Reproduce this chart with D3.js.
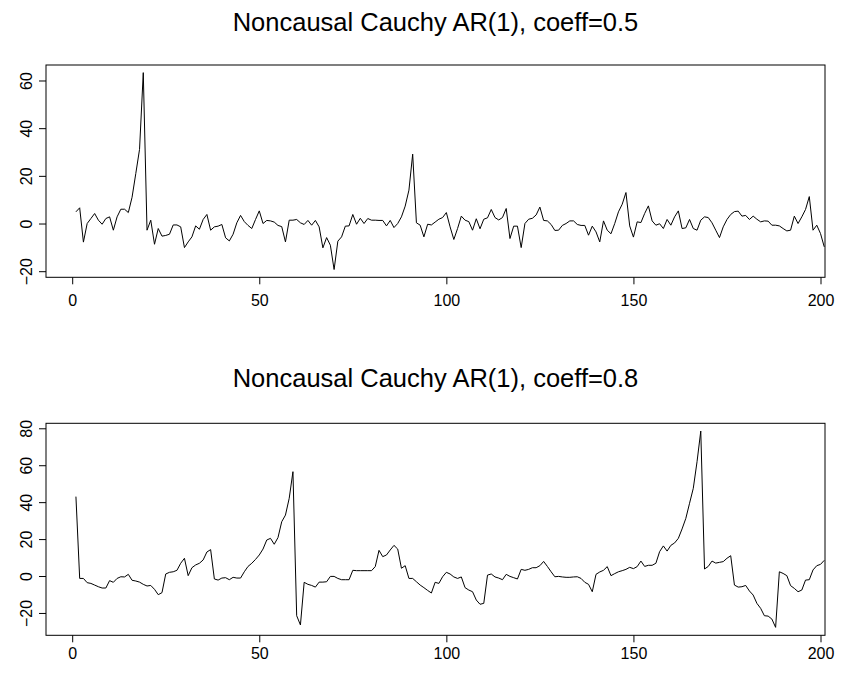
<!DOCTYPE html>
<html>
<head>
<meta charset="utf-8">
<script src="https://cdn.jsdelivr.net/npm/d3@7"></script>
<style>
  html, body { margin: 0; padding: 0; background: #fff; }
  svg { display: block; }
  text { font-family: "Liberation Sans", Arial, Helvetica, sans-serif; fill: #000; }
</style>
</head>
<body>
<svg id="chart" width="847" height="675"></svg>
<script>
// Simulated noncausal Cauchy AR(1) paths, t = 1..201
const seriesA = [
  4.9, 6.6, -7.8, 0, 2.1, 4.2, 1.4, -0.3, 2.1, 2.8,
  -2.8, 2.8, 6.0, 6.0, 4.6, 11, 21, 31.1, 63.3, -2.8,
  1.4, -8.7, -2.1, -5.3, -5.0, -4.5, -0.6, -0.6, -1.4, -10.1,
  -7.7, -5.6, -1.0, -2.4, 1.7, 3.8, -2.8, -1.4, -1.1, -0.4,
  -6.0, -7.3, -4.5, 0.3, 3.4, 0.8, -0.8, -2.1, 1.7, 5.3,
  0, 1.3, 1.1, 0.6, -0.8, -1.3, -7.7, 1.4, 1.4, 1.7,
  0.3, -0.4, 1.3, -0.7, 1.3, -1.4, -10.2, -5.9, -9.1, -19.3,
  -7.4, -5.6, -1.1, -1.0, 3.8, -0.3, 2.2, 0, 2.1, 1.4,
  1.4, 1.3, 1.3, -1.0, 1.3, -1.7, 0, 2.8, 7.3, 14.0,
  29.1, 0.3, -0.7, -5.6, -0.3, -0.6, 0.6, 1.8, 2.5, 4.6,
  -1.4, -6.7, -2.1, 3.1, 1.4, 0.8, -2.8, 2.0, -2.2, 1.8,
  2.4, 5.9, 2.5, 1.5, 2.5, 6.3, -6.3, -1.1, -1.1, -10.1,
  0, 1.8, 2.2, 3.6, 6.9, 1.3, 1.1, -0.4, -2.9, -2.8,
  -0.8, 0, 1.1, 1.1, -0.4, -0.8, -0.8, -4.9, -1.1, -3.5,
  -7.7, 1.1, -2.8, -4.3, 0, 4.9, 8.1, 13.0, -1.0, -5.7,
  0.7, 0.4, 4.2, 7.4, 1.1, -0.7, -0.1, -2.1, 1.7, -0.7,
  2.8, 5.3, -2.1, -1.8, 1.7, -2.1, -2.8, 1.4, 2.8, 2.5,
  0.3, -2.8, -5.9, -1.4, 1.7, 3.8, 5.0, 5.2, 3.1, 3.4,
  1.7, 3.1, 1.8, 0.7, 1.1, 1.0, -0.7, -0.7, -1.0, -2.1,
  -3.1, -2.8, 3.1, 0, 2.8, 5.9, 11.3, -2.8, -0.7, -4.2,
  -9.8
];

const seriesB = [
  43.0, -1.3, -1.3, -3.6, -4.0, -4.9, -5.8, -6.5, -6.5, -2.5,
  -3.4, -1.3, -0.4, -0.5, 0.9, -2.3, -2.7, -3.3, -4.5, -5.4,
  -5.1, -7.2, -10.1, -9.0, 1.1, 2.0, 2.3, 3.1, 6.9, 9.6,
  0.2, 4.5, 6.0, 6.9, 8.7, 13.0, 14.3, -1.6, -2.2, -1.1,
  -0.9, -2.0, -0.7, -1.1, -1.1, 2.3, 5.2, 6.9, 9.0, 11.4,
  14.6, 19.5, 20.4, 17.2, 20.8, 29.4, 33.0, 42.1, 56.5, -21.5,
  -26.5, -3.4, -4.5, -5.1, -6.0, -3.3, -3.3, -3.1, -0.2, -0.2,
  -1.3, -2.0, -2.0, -2.0, 3.1, 2.9, 2.9, 2.9, 2.9, 2.9,
  5.1, 13.9, 10.5, 11.4, 14.1, 16.6, 14.6, 4.2, 5.6, -1.3,
  -1.3, -3.1, -4.9, -6.3, -7.8, -9.2, -3.4, -4.0, -0.4, 2.0,
  1.1, -0.5, -1.3, -0.5, -6.3, -7.6, -8.5, -13.0, -15.3, -14.8,
  0.5, 1.1, -0.5, -1.1, -2.0, 0.9, -0.2, -0.9, -1.6, 3.6,
  3.1, 3.6, 4.5, 4.5, 5.6, 7.9, 5.2, 2.3, -0.4, -0.2,
  -0.5, -0.7, -0.7, -0.5, -0.4, -1.3, -3.4, -4.5, -8.5, 0.9,
  2.2, 3.1, 5.1, 0.2, 1.3, 2.3, 2.9, 3.6, 4.7, 4.0,
  5.1, 8.1, 5.2, 5.8, 5.8, 6.9, 13.2, 16.3, 13.5, 16.6,
  17.9, 20.4, 25.5, 31.2, 39.4, 47.5, 61.9, 78.5, 3.8, 5.2,
  8.1, 7.0, 7.4, 7.8, 9.6, 11.0, -4.9, -6.0, -5.8, -5.1,
  -8.1, -10.3, -14.8, -17.5, -21.5, -21.7, -23.3, -27.8, 2.3, 1.4,
  0.2, -5.2, -6.7, -8.5, -7.6, -2.2, -2.0, 3.3, 5.6, 6.3,
  8.5
];

const xTicks = [0, 50, 100, 150, 200];
const yTicksA = [-20, 0, 20, 40, 60];
const yTicksB = [-20, 0, 20, 40, 60, 80];
const titles = ["Noncausal Cauchy AR(1), coeff=0.5", "Noncausal Cauchy AR(1), coeff=0.8"];

const svg = d3.select("#chart");

// Shared horizontal scale; the frame runs from t = -7 to t = 201.2
const x = d3.scaleLinear().domain([-7, 201.2]).range([46, 825]);

const panels = [
  { values: seriesA, ticks: yTicksA, title: titles[0], top: 65, bottom: 277.3, ydom: [-22.56, 66.5], titleY: 31, labelPad: 10 },
  { values: seriesB, ticks: yTicksB, title: titles[1], top: 423.3, bottom: 635.3, ydom: [-32.1, 82.7], titleY: 387, labelPad: 5 }
];

const minus = s => String(s).replace("-", "\u2212");

panels.forEach(p => {
  const y = d3.scaleLinear().domain(p.ydom).range([p.bottom, p.top]);
  const g = svg.append("g");

  // series line
  const line = d3.line()
    .x((d, i) => x(i + 1))
    .y(d => y(d));
  g.append("path")
    .datum(p.values)
    .attr("fill", "none")
    .attr("stroke", "#000")
    .attr("stroke-width", 1)
    .attr("stroke-linejoin", "round")
    .attr("d", line);

  // frame
  g.append("rect")
    .attr("x", x(-7)).attr("y", p.top)
    .attr("width", x(201.2) - x(-7)).attr("height", p.bottom - p.top)
    .attr("fill", "none").attr("stroke", "#000").attr("stroke-width", 1);

  // bottom axis
  const xAxis = d3.axisBottom(x).tickValues(xTicks).tickSize(7).tickPadding(p.labelPad).tickFormat(d3.format("d"));
  const gx = g.append("g").attr("transform", `translate(0,${p.bottom})`).call(xAxis);
  gx.select(".domain").remove();
  gx.selectAll("text").style("font-size", "16px").style("font-family", "'Liberation Sans', Arial, sans-serif");

  // left axis with rotated labels
  const yAxis = d3.axisLeft(y).tickValues(p.ticks).tickSize(7).tickFormat(minus);
  const gy = g.append("g").attr("transform", `translate(${x(-7)},0)`).call(yAxis);
  gy.select(".domain").remove();
  gy.selectAll("text")
    .style("font-size", "16px")
    .style("font-family", "'Liberation Sans', Arial, sans-serif")
    .attr("text-anchor", "middle")
    .attr("dy", null)
    .attr("x", null)
    .attr("transform", "translate(-14,0) rotate(-90)")
    .attr("y", 0);

  // title
  svg.append("text")
    .attr("x", (x(-7) + x(201.2)) / 2)
    .attr("y", p.titleY)
    .attr("text-anchor", "middle")
    .style("font-size", "25.5px")
    .text(p.title);
});
</script>
</body>
</html>
